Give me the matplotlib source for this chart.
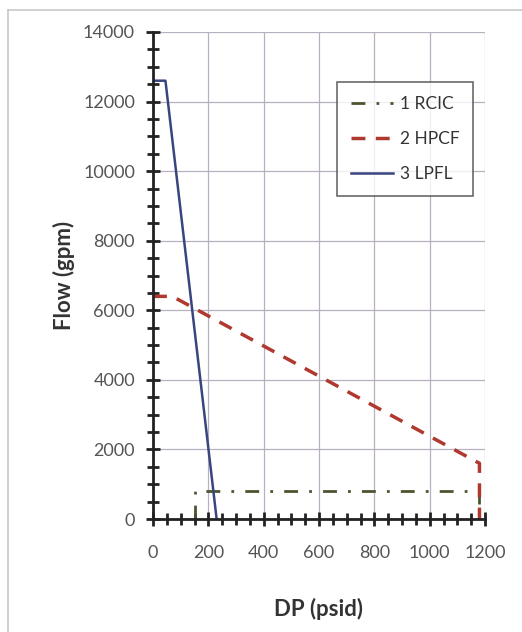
import matplotlib
matplotlib.use("Agg")
from matplotlib import pyplot as plt
from matplotlib.ticker import MultipleLocator
from matplotlib.lines import Line2D

plt.rcParams['font.family'] = ['Lato', 'DejaVu Sans']

# pump curves
rcic_dp = [150, 150, 1180, 1180]
rcic_flow = [0, 800, 800, 0]
hpcf_dp = [0, 70, 1180, 1180]
hpcf_flow = [6400, 6400, 1600, 0]
lpfl_dp = [0, 45, 230]
lpfl_flow = [12600, 12600, 0]
labels = ["1 RCIC", "2 HPCF", "3 LPFL"]

fig = plt.figure(figsize=(5.22, 6.32), dpi=100)
ax = fig.add_axes([153/522, 1 - 519/632, (485 - 153)/522, (519 - 32)/632])

# outer chart border
fig.add_artist(Line2D([8/522, 8/522], [0, 1 - 10/632], color="#c8c8c8", lw=1.2, transform=fig.transFigure))
fig.add_artist(Line2D([8/522, 1], [1 - 10/632, 1 - 10/632], color="#c8c8c8", lw=1.2, transform=fig.transFigure))

ax.plot(rcic_dp, rcic_flow, color="#4d5530", lw=2, linestyle=(0, (5, 4, 1, 4)), label=labels[0])
ax.plot(hpcf_dp, hpcf_flow, color="#b0392f", lw=2.5, linestyle=(0, (4, 3)), label=labels[1])
ax.plot(lpfl_dp, lpfl_flow, color="#39457e", lw=1.8, label=labels[2])

ax.set_xlim(0, 1200)
ax.set_ylim(0, 14000)
ax.xaxis.set_major_locator(MultipleLocator(200))
ax.xaxis.set_minor_locator(MultipleLocator(50))
ax.yaxis.set_major_locator(MultipleLocator(2000))
ax.yaxis.set_minor_locator(MultipleLocator(500))

ax.grid(True, which="major", color="#b8b0c0", lw=0.9)
ax.set_axisbelow(True)
for s in ["top", "right"]:
    ax.spines[s].set_visible(False)
for s in ["left", "bottom"]:
    ax.spines[s].set_linewidth(2)
    ax.spines[s].set_color("#222222")

ax.tick_params(which="major", direction="inout", length=10, width=2, color="#222222",
               labelsize=13, labelcolor="#555555", pad=8)
ax.tick_params(which="minor", direction="inout", length=8, width=2, color="#222222")
ax.tick_params(axis="x", pad=14)

ax.set_xlabel("DP (psid)", fontsize=16, fontweight="bold", color="#333333", labelpad=26)
ax.set_ylabel("Flow (gpm)", fontsize=16, fontweight="bold", color="#333333", labelpad=6)

leg = ax.legend(loc="upper right", bbox_to_anchor=(0.965, 0.897), fontsize=12.5,
                frameon=True, fancybox=False, edgecolor="#444444", handlelength=2.4,
                labelspacing=1.1, borderpad=0.8, handletextpad=0.4, borderaxespad=0)
leg.get_frame().set_linewidth(1.2)
for t in leg.get_texts():
    t.set_color("#333333")

plt.savefig("out.png", dpi=100)
